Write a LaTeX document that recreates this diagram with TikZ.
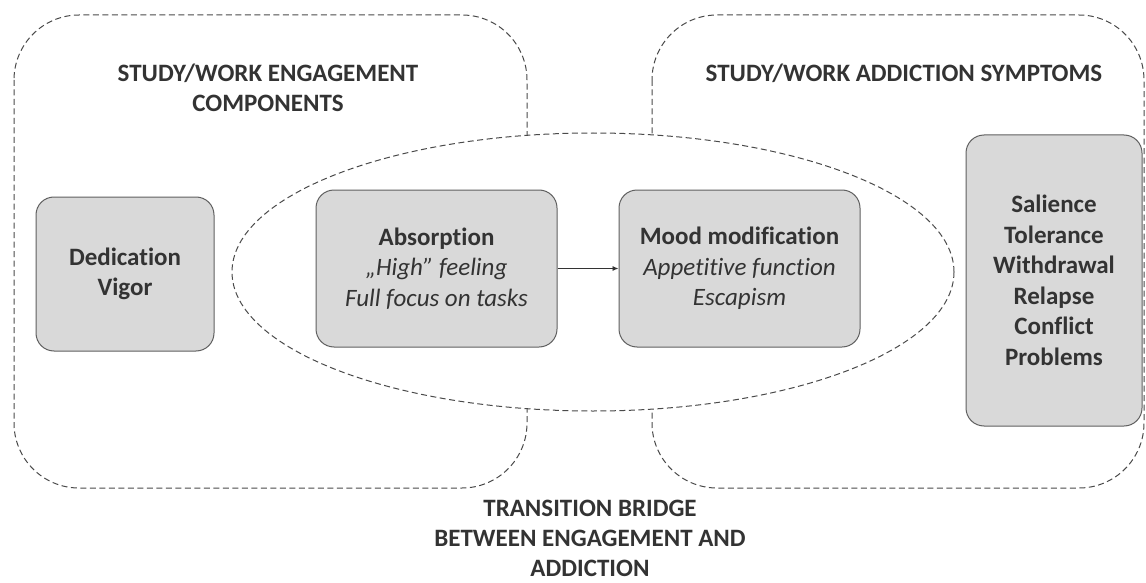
\documentclass[tikz,border=0pt]{standalone}
\usepackage{fontspec}
\setmainfont{Carlito}[Ligatures={NoCommon,NoRequired,NoContextual,NoDiscretionary}]
\usetikzlibrary{arrows.meta}
\definecolor{inkgray}{HTML}{333333}
\definecolor{linegray}{HTML}{4A4A4A}
\definecolor{boxfill}{HTML}{D9D9D9}
\definecolor{boxline}{HTML}{606060}
\begin{document}
\begin{tikzpicture}[x=1pt,y=-1pt,
  zone/.style={draw=linegray, line width=1pt, dash pattern=on 6pt off 3.5pt, rounded corners=65pt},
  bridgezone/.style={draw=linegray, line width=1pt, dash pattern=on 6pt off 3.5pt, fill=white},
  factor/.style={draw=boxline, fill=boxfill, line width=1pt, rounded corners=18pt,
    align=center, text=inkgray, font=\fontsize{25}{30.5}\selectfont, inner sep=0pt},
  heading/.style={align=center, text=inkgray, font=\fontsize{25}{30}\selectfont\bfseries, inner sep=0pt},
  link/.style={draw=inkgray, line width=0.9pt, -{Latex[length=6pt,width=5pt]}}
]
\useasboundingbox (0,0) rectangle (1146,583);
\fill[white] (0,0) rectangle (1146,583);

% engagement and addiction zones
\draw[zone] (14,15) rectangle (527,488);
\draw[zone] (652,15) rectangle (1144,488);

% transition bridge
\draw[bridgezone] (593,272) ellipse [x radius=361pt, y radius=139pt];

% headings
\node[heading] (engtitle) at (268,88) {STUDY/WORK ENGAGEMENT\\COMPONENTS};
\node[heading] (addtitle) at (904,73) {STUDY/WORK ADDICTION SYMPTOMS};
\node[heading] (bridgetitle) at (590,538) {TRANSITION BRIDGE\\BETWEEN ENGAGEMENT AND\\ADDICTION};

% component boxes
\node[factor, minimum width=178pt, minimum height=154pt] (dedication) at (125,274)
  {\textbf{Dedication}\\\textbf{Vigor}};
\node[factor, minimum width=241pt, minimum height=157pt] (absorption) at (436.5,268.5)
  {\textbf{Absorption}\\\textit{„High” feeling}\\\textit{Full focus on tasks}};
\node[factor, minimum width=241pt, minimum height=157pt] (mood) at (739.5,268.5)
  {\textbf{Mood modification}\\\textit{Appetitive function}\\\textit{Escapism}};
\node[factor, minimum width=176pt, minimum height=291pt] (symptoms) at (1054,280.5)
  {\textbf{Salience}\\\textbf{Tolerance}\\\textbf{Withdrawal}\\\textbf{Relapse}\\\textbf{Conflict}\\\textbf{Problems}};

\draw[link] (absorption) -- (mood);
\end{tikzpicture}
\end{document}
